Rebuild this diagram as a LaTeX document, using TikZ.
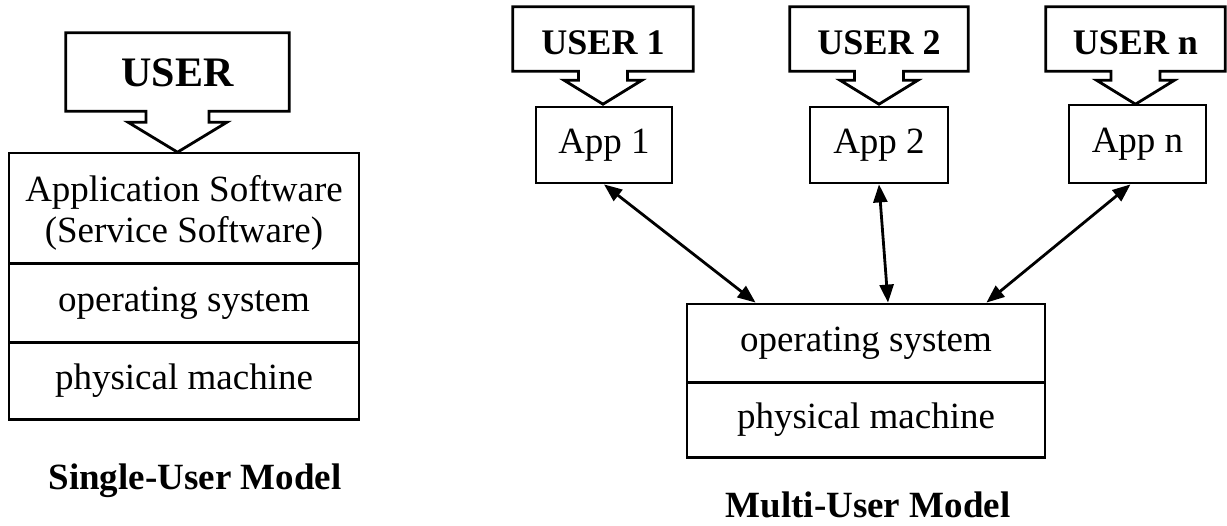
\documentclass[tikz,border=0pt]{standalone}
\usepackage{fontspec}
\setmainfont{Liberation Serif}
\usetikzlibrary{arrows.meta,calc}

% Outline of a box with a block arrow hanging below it:
% #1 node, #2 neck half-width, #3 shoulder half-width, #4 neck depth, #5 tip depth
\newcommand\userflag[5]{%
  \draw[ln] (#1.north west) -- (#1.north east) -- (#1.south east)
    -- ([xshift=#2]#1.south) -- ([xshift=#2,yshift=-#4]#1.south)
    -- ([xshift=#3,yshift=-#4]#1.south) -- ([yshift=-#5]#1.south)
    -- ([xshift=-#3,yshift=-#4]#1.south) -- ([xshift=-#2,yshift=-#4]#1.south)
    -- ([xshift=-#2]#1.south) -- (#1.south west) -- cycle;}

\begin{document}
\begin{tikzpicture}[x=1pt,y=-1pt,
  ln/.style={line width=2.8pt, line join=miter},
  txt/.style={inner sep=0pt, align=center, font=\fontsize{37}{41}\selectfont},
  layer/.style={draw, ln, txt},
  usertext/.style={inner sep=0pt, text height=32pt, text depth=0pt,
    font=\fontsize{36}{40}\selectfont\bfseries},
  title/.style={inner sep=0pt, font=\fontsize{37}{41}\selectfont\bfseries},
  link/.style={ln, {Triangle[length=18pt,width=14pt]}-{Triangle[length=18pt,width=14pt]}}]
\useasboundingbox (0,0) rectangle (1227,526);

% ---------- single-user model ----------
\node[usertext, font=\fontsize{42}{46}\selectfont\bfseries, text height=30pt,
      minimum width=223pt, minimum height=78pt] (user) at (177.5,72) {USER};
\userflag{user}{31.5pt}{49.5pt}{11pt}{41pt}

\node[layer, minimum width=350pt, minimum height=110pt] (app) at (184,208) {};
\node[txt] (apptxt) at (184,213) {Application Software\\(Service Software)};
\node[layer, minimum width=350pt, minimum height=78pt] (os) at (184,303) {operating system};
\node[layer, minimum width=350pt, minimum height=77pt] (pm) at (184,381) {physical machine};

\node[title] (t1) at (195,481) {Single-User Model};

% ---------- multi-user model ----------
\node[usertext, minimum width=180pt, minimum height=64pt] (u1) at (603,39) {USER 1};
\node[usertext, minimum width=178pt, minimum height=64pt] (u2) at (879,39) {USER 2};
\node[usertext, minimum width=179pt, minimum height=64pt] (un) at (1135.5,39) {USER n};
\userflag{u1}{24.5pt}{39pt}{9pt}{33pt}
\userflag{u2}{24.5pt}{39pt}{9pt}{33pt}
\userflag{un}{24.5pt}{39pt}{9pt}{33pt}

\node[layer, minimum width=136pt, minimum height=76pt] (a1) at (604,145) {App 1};
\node[layer, minimum width=138pt, minimum height=76pt] (a2) at (879,145) {App 2};
\node[layer, minimum width=137pt, minimum height=78pt] (an) at (1137.5,144) {App n};

\node[layer, minimum width=358pt, minimum height=78pt] (mos) at (866,343) {operating system};
\node[layer, minimum width=358pt, minimum height=75pt] (mpm) at (866,420) {physical machine};

\draw[link] (a1.south) -- ([xshift=70pt]mos.north west);
\draw[link] (a2.south) -- ([xshift=22pt]mos.north);
\draw[link] ([xshift=-7pt]an.south) -- ([xshift=-60pt]mos.north east);

\node[title] (t2) at (868,505) {Multi-User Model};
\end{tikzpicture}
\end{document}
